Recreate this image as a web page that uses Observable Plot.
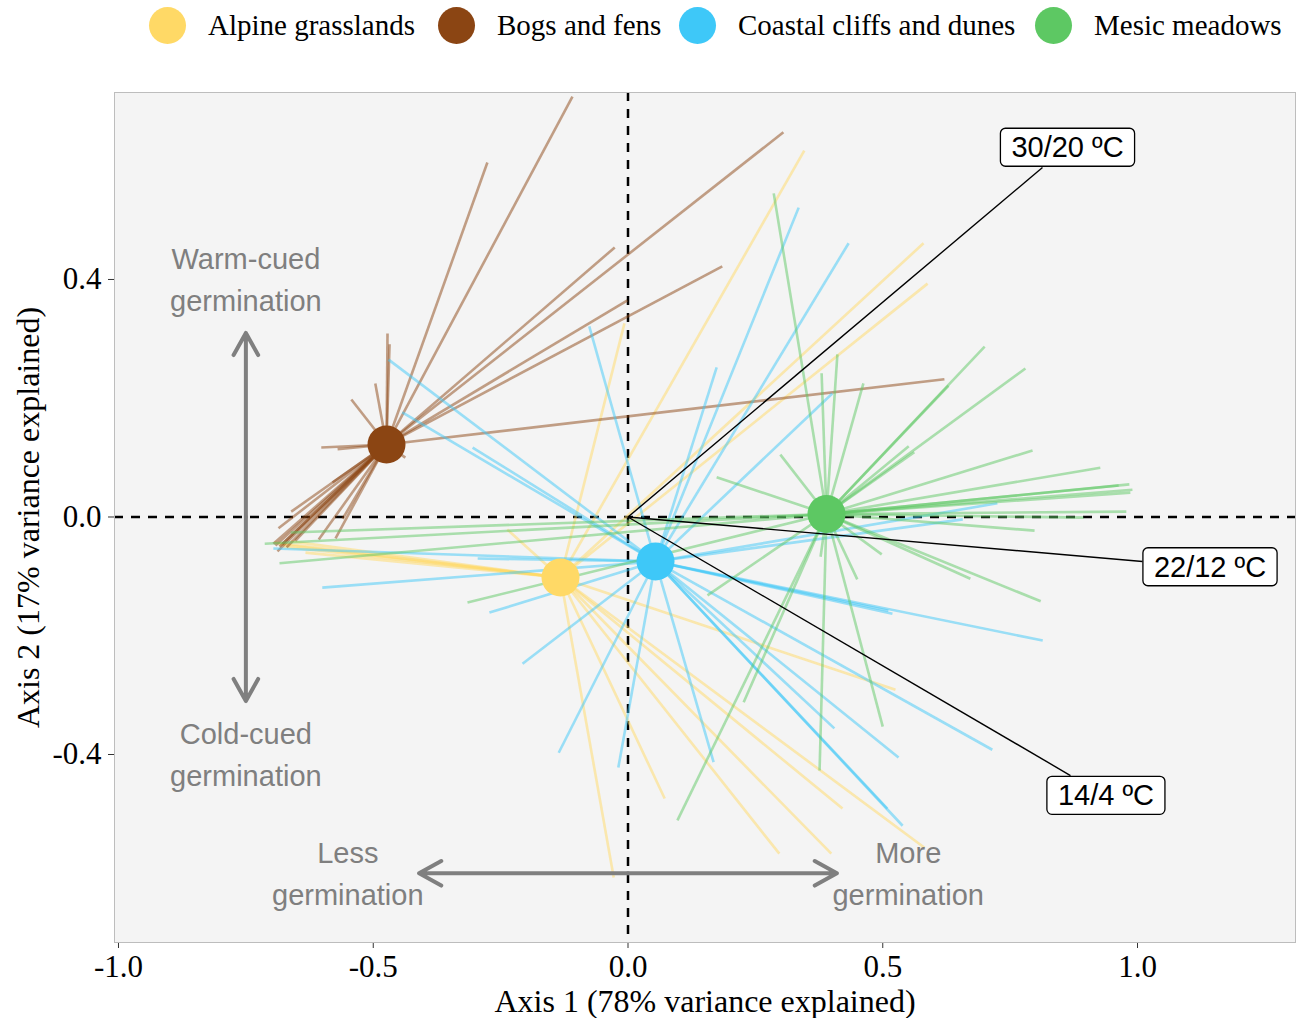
<!DOCTYPE html>
<html>
<head>
<meta charset="utf-8">
<script src="https://cdn.jsdelivr.net/npm/d3@7"></script>
<script src="https://cdn.jsdelivr.net/npm/@observablehq/plot@0.6"></script>
<style>
  body { margin: 0; background: #fff; }
  #legend { position: relative; width: 1298px; height: 50px; font-family: "Liberation Serif", "Times New Roman", serif; font-size: 29px; color: #000; }
  .item { position: absolute; top: 0; height: 50px; display: flex; align-items: center; white-space: nowrap; }
  .sw { width: 37px; height: 37px; border-radius: 50%; margin-right: 22px; flex: none; }
  #chart svg { display: block; }
</style>
</head>
<body>
<div id="legend"></div>
<div id="chart"></div>
<script>
// ---------------- Data ----------------
const groups = ["Alpine grasslands", "Bogs and fens", "Coastal cliffs and dunes", "Mesic meadows"];
const groupColors = ["#FFD966", "#8B4513", "#3EC8F8", "#5DC863"];

// Group centroids (Axis 1, Axis 2)
const centroidX = [-0.1325, -0.474, 0.054, 0.3896];
const centroidY = [-0.1019, 0.122, -0.075, 0.005];

// Species scores per group
const alpineX = [0.346, 0.580, 0.588, -0.007, -0.237, -0.694, -0.686, -0.676, -0.662, -0.633, -0.028, 0.072, 0.297, 0.399, 0.421, 0.525, 0.582];
const alpineY = [0.617, 0.461, 0.393, 0.326, -0.021, -0.043, -0.046, -0.050, -0.041, -0.060, -0.607, -0.474, -0.567, -0.567, -0.491, -0.291, -0.557];

const bogsX = [-0.109, -0.276, 0.305, -0.026, -0.001, 0.185, 0.621, -0.472, -0.468, -0.496, -0.543, -0.602, -0.570, -0.437, -0.661, -0.686, -0.696, -0.688, -0.678, -0.653, -0.607, -0.574, -0.560, -0.580, -0.692, -0.684, -0.670];
const bogsY = [0.708, 0.597, 0.648, 0.454, 0.365, 0.422, 0.232, 0.309, 0.291, 0.225, 0.198, 0.117, 0.114, 0.100, 0.009, -0.019, -0.045, -0.058, -0.045, -0.040, -0.038, -0.036, -0.003, 0.058, -0.048, -0.050, -0.051];

const coastalX = [-0.076, 0.174, 0.335, 0.433, 0.401, -0.470, -0.443, -0.305, -0.696, -0.600, -0.272, -0.295, -0.207, -0.136, -0.019, 0.168, 0.405, 0.531, 0.539, 0.509, 0.715, 0.519, 0.511, 0.814, 0.657, 0.725];
const coastalY = [0.321, 0.252, 0.521, 0.461, 0.208, 0.265, 0.176, 0.117, -0.053, -0.119, -0.161, -0.070, -0.247, -0.397, -0.422, -0.413, -0.356, -0.405, -0.520, -0.491, -0.392, -0.163, -0.158, -0.208, -0.004, 0.023];

const mesicX = [0.286, 0.380, 0.411, 0.462, 0.299, 0.174, 0.700, 0.780, 0.629, 0.551, 0.562, 0.794, 0.927, 0.984, 0.990, 0.963, 0.986, 0.978, 0.894, 0.798, 0.498, 0.450, 0.672, 0.810, 0.378, 0.156, 0.227, 0.097, 0.376, 0.500, -0.713, -0.684, -0.315, -0.662];
const mesicY = [0.545, 0.242, 0.274, 0.225, 0.105, 0.067, 0.287, 0.250, 0.221, 0.119, 0.109, 0.112, 0.083, 0.055, 0.046, 0.053, 0.041, 0.009, -0.001, -0.023, -0.063, -0.105, -0.104, -0.142, -0.067, -0.132, -0.312, -0.511, -0.427, -0.353, -0.045, -0.078, -0.144, -0.026];

// Environmental vectors (temperature regimes)
const vectorLabels = ["30/20 ºC", "22/12 ºC", "14/4 ºC"];
const vectorX = [0.8135, 1.0098, 0.8685];
const vectorY = [0.5886, -0.0749, -0.4354];
const vectorLabelX = [0.8626, 1.1423, 0.938];
const vectorLabelY = [0.6215, -0.085, -0.470];

// Interpretation annotations
const cueTexts = ["Warm-cued\ngermination", "Cold-cued\ngermination", "Less\ngermination", "More\ngermination"];
const cueX = [-0.75, -0.75, -0.55, 0.55];
const cueY = [0.405, -0.395, -0.595, -0.595];
const arrowFromX = [-0.75, -0.75, 0, 0];
const arrowFromY = [0, 0, -0.60, -0.60];
const arrowToX = [-0.75, -0.75, -0.41, 0.41];
const arrowToY = [0.31, -0.31, -0.60, -0.60];

const xTicks = [-1, -0.5, 0, 0.5, 1];
const yTicks = [-0.4, 0, 0.4];
const xTitle = "Axis 1 (78% variance explained)";
const yTitle = "Axis 2 (17% variance explained)";

// ---------------- Build tables ----------------
const scoresX = [alpineX, bogsX, coastalX, mesicX];
const scoresY = [alpineY, bogsY, coastalY, mesicY];
const spider = [];
groups.forEach((g, gi) => {
  scoresX[gi].forEach((sx, i) => {
    spider.push({group: g, x1: centroidX[gi], y1: centroidY[gi], x2: sx, y2: scoresY[gi][i]});
  });
});
const centroids = groups.map((g, i) => ({group: g, x: centroidX[i], y: centroidY[i]}));
const vectors = vectorLabels.map((l, i) => ({label: l, x1: 0, y1: 0, x2: vectorX[i], y2: vectorY[i], lx: vectorLabelX[i], ly: vectorLabelY[i]}));
const cues = cueTexts.map((t, i) => ({t, x: cueX[i], y: cueY[i]}));
const arrows = arrowFromX.map((_, i) => ({x1: arrowFromX[i], y1: arrowFromY[i], x2: arrowToX[i], y2: arrowToY[i]}));

// ---------------- Legend (HTML) ----------------
const legendLeft = [149, 438, 679, 1035];
const legend = document.getElementById("legend");
groups.forEach((g, i) => {
  const it = document.createElement("div");
  it.className = "item";
  it.style.left = legendLeft[i] + "px";
  const sw = document.createElement("span");
  sw.className = "sw";
  sw.style.background = groupColors[i];
  const tx = document.createElement("span");
  tx.textContent = g;
  it.append(sw, tx);
  legend.append(it);
});

// ---------------- Plot ----------------
const fmt = d => d.toFixed(1);
const chart = Plot.plot({
  width: 1298,
  height: 968,
  marginTop: 42,
  marginRight: 3,
  marginBottom: 76,
  marginLeft: 114,
  x: {domain: [-1.00785, 1.3101]},
  y: {domain: [-0.7166, 0.7149]},
  color: {domain: groups, range: groupColors},
  style: {fontFamily: "'Liberation Serif', 'Times New Roman', serif", fontSize: "31px", background: "white", color: "black"},
  marks: [
    Plot.frame({fill: "#F4F4F4", stroke: "none"}),
    Plot.ruleX([0], {stroke: "black", strokeWidth: 2.5, strokeDasharray: "9,8"}),
    Plot.ruleY([0], {stroke: "black", strokeWidth: 2.5, strokeDasharray: "9,8"}),
    Plot.link(spider, {x1: "x1", y1: "y1", x2: "x2", y2: "y2", stroke: "group", strokeOpacity: 0.5, strokeWidth: 2.6}),
    Plot.link(vectors, {x1: "x1", y1: "y1", x2: "x2", y2: "y2", stroke: "black", strokeWidth: 1.4}),
    Plot.dot(centroids, {x: "x", y: "y", r: 19, fill: "group", stroke: "none"}),
    Plot.arrow(arrows, {x1: "x1", y1: "y1", x2: "x2", y2: "y2", stroke: "#7F7F7F", strokeWidth: 4, headLength: 9.5, headAngle: 58, strokeLinecap: "round", strokeLinejoin: "round"}),
    Plot.text(cues, {x: "x", y: "y", text: "t", fill: "#7F7F7F", fontFamily: "'Liberation Sans', Arial, sans-serif", fontSize: 29, lineHeight: 1.45}),
    Plot.text(vectors, {x: "lx", y: "ly", text: "label", fill: "black", fontFamily: "'Liberation Sans', Arial, sans-serif", fontSize: 29}),
    Plot.axisX({ticks: xTicks, tickFormat: fmt, tickSize: 6, tickPadding: 6, label: null, stroke: "#333"}),
    Plot.axisY({ticks: yTicks, tickFormat: fmt, tickSize: 6, tickPadding: 7, label: null, stroke: "#333"}),
    Plot.text([xTitle], {frameAnchor: "bottom", text: d => d, dy: 59, fontSize: 32, lineAnchor: "middle", textAnchor: "middle"}),
    Plot.text([yTitle], {frameAnchor: "left", text: d => d, dx: -86, rotate: -90, fontSize: 32, lineAnchor: "middle", textAnchor: "middle"}),
    Plot.frame({stroke: "#BDBDBD", strokeWidth: 1})
  ]
});
document.getElementById("chart").append(chart);

// Boxes behind the vector labels
const NS = "http://www.w3.org/2000/svg";
chart.querySelectorAll("text").forEach(t => {
  if (vectorLabels.includes(t.textContent)) {
    const b = t.getBBox();
    const r = document.createElementNS(NS, "rect");
    r.setAttribute("x", b.x - 11);
    r.setAttribute("y", b.y - 3);
    r.setAttribute("width", b.width + 22);
    r.setAttribute("height", b.height + 6);
    r.setAttribute("rx", 5);
    r.setAttribute("fill", "white");
    r.setAttribute("stroke", "black");
    r.setAttribute("stroke-width", 1.3);
    if (t.getAttribute("transform")) r.setAttribute("transform", t.getAttribute("transform"));
    t.parentNode.insertBefore(r, t);
  }
});
</script>
</body>
</html>
